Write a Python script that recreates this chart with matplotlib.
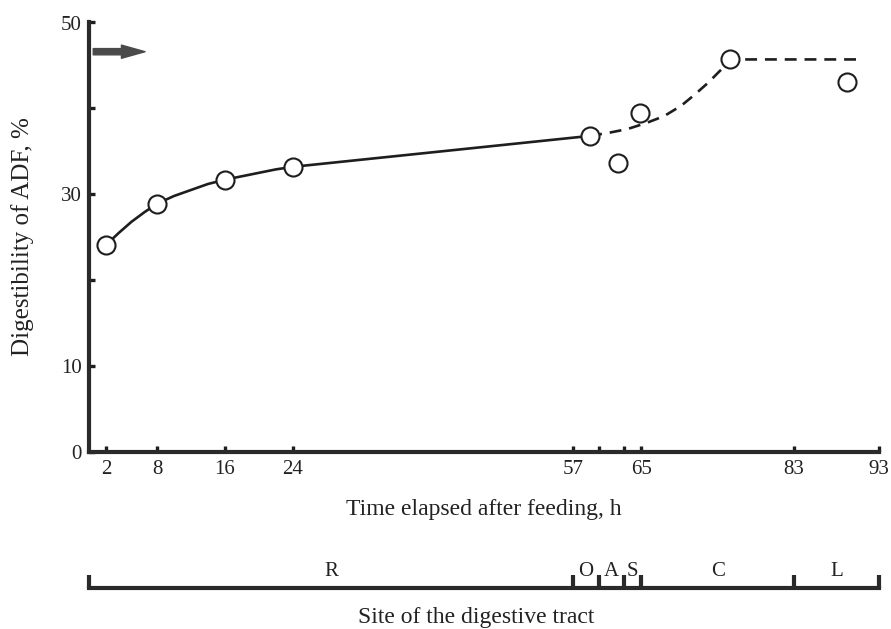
import matplotlib
matplotlib.use("Agg")
import matplotlib.pyplot as plt

plt.rcParams['font.family'] = ['Liberation Serif', 'DejaVu Serif']

# measured points (hours after feeding, digestibility %)
pt_hours = [2, 8, 16, 24, 59, 62.3, 64.9, 75.5, 89.2]
pt_values = [24.1, 28.9, 31.7, 33.2, 36.8, 33.7, 39.5, 45.7, 43.1]

# hand-drawn fitted curve
solid_hours = [2, 3.5, 5, 6.5, 8, 10, 12, 14, 16, 18, 20, 22, 24, 59]
solid_values = [24.1, 25.5, 26.8, 27.9, 28.9, 29.8, 30.5, 31.2, 31.7, 32.1, 32.5, 32.9, 33.2, 36.8]
dash_hours = [59, 61.4, 63.4, 65.6, 67.7, 69.7, 71.3, 72.9, 74.2, 75.5, 77, 81, 91]
dash_values = [36.8, 37.2, 37.6, 38.3, 39.1, 40.3, 41.6, 43.0, 44.3, 45.5, 45.7, 45.7, 45.7]

x_ticks = [2, 8, 16, 24, 57, 60, 63, 65, 83, 93]
x_ticklabels = ['2', '8', '16', '24', '57', '', '', '65', '83', '93']
y_ticks = [0, 10, 20, 30, 40, 50]
y_ticklabels = ['0', '10', '', '30', '', '50']

# digestive tract sites and their boundaries (h)
sites = ['R', 'O', 'A', 'S', 'C', 'L']
site_bounds = [0, 57, 60, 63, 65, 83, 93]

ink = '#1e1e1e'
W, H = 891, 629

fig = plt.figure(figsize=(W / 100, H / 100), dpi=100)
ax = fig.add_axes([89 / W, (H - 452) / H, (879 - 89) / W, (452 - 22.5) / H])

ax.plot(solid_hours, solid_values, color=ink, lw=1.9, zorder=2)
ax.plot(dash_hours, dash_values, color=ink, lw=1.9, ls=(0, (4.5, 3)), zorder=2)
ax.plot(pt_hours, pt_values, 'o', ms=13, mfc='white', mec=ink, mew=1.5, zorder=3)

# arrow at top-left
ax.annotate('', xy=(6.6, 46.6), xytext=(0.5, 46.6),
            arrowprops=dict(arrowstyle='simple,head_length=1.7,head_width=0.95,tail_width=0.45',
                            color='#4a4a4a', mutation_scale=10, shrinkA=0, shrinkB=0))

ax.set_xlim(0, 93)
ax.set_ylim(0, 50)
ax.set_xticks(x_ticks)
ax.set_xticklabels(x_ticklabels)
ax.set_yticks(y_ticks)
ax.set_yticklabels(y_ticklabels)
ax.tick_params(direction='in', length=4.5, width=2.4, color=ink, labelsize=15,
               labelcolor='#222222')
ax.tick_params(axis='x', pad=6)
ax.tick_params(axis='y', pad=5)
for s in ['top', 'right']:
    ax.spines[s].set_visible(False)
for s in ['left', 'bottom']:
    ax.spines[s].set_linewidth(3)
    ax.spines[s].set_color('#2a2a2a')
    ax.spines[s].set_capstyle('projecting')

fig.text(484 / W, 1 - 510 / H, 'Time elapsed after feeding, h', ha='center', va='center',
         fontsize=17, color='#222222')
fig.text(23 / W, 1 - 237 / H, 'Digestibility of ADF, %', ha='center', va='center',
         rotation=90, fontsize=18, color='#222222')

# site bracket below
bx = fig.add_axes([89 / W, (H - 588) / H, (879 - 89) / W, 13 / H])
bx.set_xlim(0, 93)
bx.set_ylim(0, 1)
bx.axis('off')
bx.plot([site_bounds[0], site_bounds[-1]], [0, 0], color='#2a2a2a', lw=3,
        solid_capstyle='projecting', clip_on=False)
bx.vlines(site_bounds, 0, 1, color='#2a2a2a', lw=3, clip_on=False)
for i, name in enumerate(sites):
    mid = (site_bounds[i] + site_bounds[i + 1]) / 2
    bx.text(mid, 1.25, name, ha='center', va='center', fontsize=15, color='#222222')

fig.text(476 / W, 1 - 617 / H, 'Site of the digestive tract', ha='center', va='center',
         fontsize=17, color='#222222')

fig.savefig('out.png', dpi=100)
